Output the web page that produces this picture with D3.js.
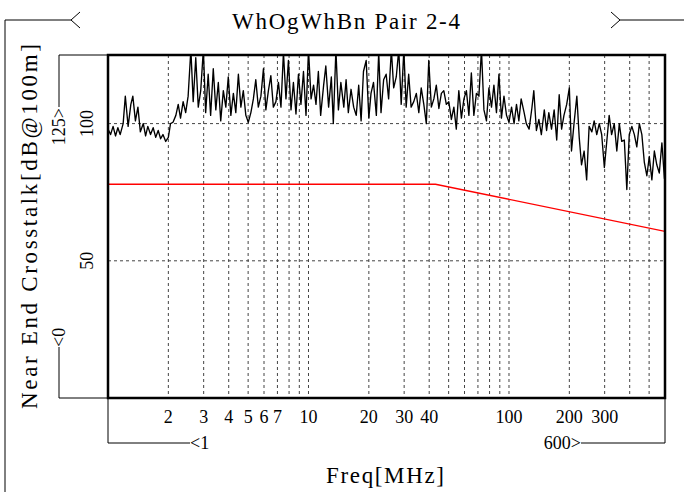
<!DOCTYPE html>
<html><head><meta charset="utf-8">
<script src="https://cdn.jsdelivr.net/npm/d3@7"></script>
<style>body{margin:0;background:#fff;} svg{display:block;}</style>
</head><body>
<svg id="c" width="684" height="492"></svg>
<script>
const title = "WhOgWhBn Pair 2-4";
const xLabel = "Freq[MHz]";
const yLabel = "Near End Crosstalk[dB@100m]";
const xTickLabels = [2,3,4,5,6,7,10,20,30,40,100,200,300];
const xGrid = [2,3,4,5,6,7,8,9,10,20,30,40,50,60,70,80,90,100,200,300,400,500];
const yTicks = [50,100];
const xMin = 1, xMax = 600, yMin = 0, yMax = 125;

const freqs = [
1.00,1.03,1.06,1.09,1.12,1.15,1.19,1.22,1.26,1.30,
1.33,1.37,1.41,1.45,1.50,1.54,1.58,1.63,1.68,1.73,
1.78,1.83,1.88,1.94,2.00,2.05,2.11,2.18,2.24,2.30,
2.37,2.44,2.51,2.59,2.66,2.74,2.82,2.90,2.99,3.07,
3.16,3.25,3.35,3.45,3.55,3.65,3.76,3.87,3.98,4.10,
4.22,4.34,4.47,4.60,4.73,4.87,5.01,5.16,5.31,5.46,
5.62,5.79,5.96,6.13,6.31,6.49,6.68,6.88,7.08,7.29,
7.50,7.72,7.94,8.18,8.41,8.66,8.91,9.17,9.44,9.72,
10.0,10.3,10.6,10.9,11.2,11.5,11.9,12.2,12.6,13.0,
13.3,13.7,14.1,14.5,15.0,15.4,15.8,16.3,16.8,17.3,
17.8,18.3,18.8,19.4,20.0,20.5,21.1,21.8,22.4,23.0,
23.7,24.4,25.1,25.9,26.6,27.4,28.2,29.0,29.9,30.7,
31.6,32.5,33.5,34.5,35.5,36.5,37.6,38.7,39.8,41.0,
42.2,43.4,44.7,46.0,47.3,48.7,50.1,51.6,53.1,54.6,
56.2,57.9,59.6,61.3,63.1,64.9,66.8,68.8,70.8,72.9,
75.0,77.2,79.4,81.8,84.1,86.6,89.1,91.7,94.4,97.2,
100,103,106,109,112,115,119,122,126,130,
133,137,141,145,150,154,158,163,168,173,
178,183,188,194,200,205,211,218,224,230,
237,244,251,259,266,274,282,290,299,307,
316,325,335,345,355,365,376,387,398,410,
422,434,447,460,473,487,501,516,531,546,
562,579,596,600];

const nextdB = [
98,96,99,95.5,98.5,96,100,110,99,107,
110,101,106,97,100,95.5,99,96,98.5,95,
97.5,94.5,96,93.5,95,100,100.5,103,107,102,
108,104,110,127,108,124,106,112,127,104,
118,103,120,105,115,101,112,106,117,103,
111,104,118,106,112,103,100.5,104,109,116,
106,110,120,105,112,117.5,106,108,115,106,
126,109,123,105,115,103.5,118,107,119,103,
127,109,114,107,119,103,114,121,106,117,
100,127,105,115,106,116,104,112.5,106,103,
114,101,119,123,102,111,115,103,126,104,
116,118,109,127,113,117,127,107,127,106,
118,106,108,111,104,113,107,100,123,106,
109,114,105.5,111,112,107,108,101.5,106,98,
112,102,109,112,103,118.5,103,111,110,127,
105,101,113,106,114,104,118,102,110,103,
100.5,106,100,107,101,109,104,100,98,105.5,
112,97.5,101.5,96,105,97.5,104,98,105,94,
110.5,98,103,107,113,90,100,110,95,85,
90,79.5,99,97,101,96,100,96,84,93,
103,96,100,90,100,93.5,94,76,96,99,
96,91.5,100,96,86,81,88,79.5,90,85,
82,93,80,80];

const limitFreqs = [1, 43, 600];
const limitdB = [77.9, 77.9, 60.7];

const P = {left:108, right:665, top:55, bottom:398};
const FONT = "'Liberation Serif','DejaVu Serif',serif";

const svg = d3.select("#c");
const x = d3.scaleLog().domain([xMin, xMax]).range([P.left, P.right]);
const y = d3.scaleLinear().domain([yMin, yMax]).range([P.bottom, P.top]);

// grid
const g = svg.append("g");
g.selectAll(".vg").data(xGrid).join("line")
  .attr("x1", d => x(d)).attr("x2", d => x(d))
  .attr("y1", P.top).attr("y2", P.bottom)
  .attr("stroke", "#444").attr("stroke-width", 1).attr("stroke-dasharray", "3,3");
g.selectAll(".hg").data(yTicks).join("line")
  .attr("x1", P.left).attr("x2", P.right)
  .attr("y1", d => y(d)).attr("y2", d => y(d))
  .attr("stroke", "#444").attr("stroke-width", 1).attr("stroke-dasharray", "3,3");

// clip
svg.append("clipPath").attr("id", "pc").append("rect")
  .attr("x", P.left).attr("y", P.top).attr("width", P.right - P.left).attr("height", P.bottom - P.top);

const line = d3.line().x(d => x(d[0])).y(d => y(d[1]));

svg.append("path").attr("clip-path", "url(#pc)")
  .attr("d", line(limitFreqs.map((f, i) => [f, limitdB[i]])))
  .attr("fill", "none").attr("stroke", "#ff0000").attr("stroke-width", 1.4);

svg.append("path").attr("clip-path", "url(#pc)")
  .attr("d", line(freqs.map((f, i) => [f, nextdB[i]])))
  .attr("fill", "none").attr("stroke", "#000").attr("stroke-width", 1.35)
  .attr("stroke-linejoin", "round");

// frame
svg.append("rect").attr("x", P.left).attr("y", P.top)
  .attr("width", P.right - P.left).attr("height", P.bottom - P.top)
  .attr("fill", "none").attr("stroke", "#000").attr("stroke-width", 2.5);

// x tick labels
svg.selectAll(".xt").data(xTickLabels).join("text")
  .attr("x", d => x(d)).attr("y", 423)
  .attr("text-anchor", "middle")
  .attr("font-family", FONT).attr("font-size", 18).attr("fill", "#000")
  .text(d => d);

// y tick labels (rotated)
svg.selectAll(".yt").data(yTicks).join("text")
  .attr("transform", d => `translate(93,${y(d)}) rotate(-90)`)
  .attr("text-anchor", "middle")
  .attr("font-family", FONT).attr("font-size", 18).attr("fill", "#000")
  .text(d => d);

const br = svg.append("g").attr("fill", "none").attr("stroke", "#000").attr("stroke-width", 1);
// y range brackets
br.append("path").attr("d", `M${P.left},${y(yMax)}H59V107`);
br.append("path").attr("d", `M${P.left},${y(yMin)}H59V347`);
// x range brackets
br.append("path").attr("d", `M${x(xMin)},${P.bottom}V443H190`);
br.append("path").attr("d", `M${x(xMax)},${P.bottom}V443H581`);
// title brackets
br.append("path").attr("d", `M5,492V20H71`);
br.append("path").attr("d", `M80,12L71,20L80,28`);
br.append("path").attr("d", `M684,20H620`);
br.append("path").attr("d", `M611,12L620,20L611,28`);

svg.append("text").attr("transform", `translate(65,108) rotate(-90)`)
  .attr("text-anchor", "end").attr("font-family", FONT).attr("font-size", 18)
  .text(yMax + ">");
svg.append("text").attr("transform", `translate(65,347) rotate(-90)`)
  .attr("text-anchor", "start").attr("font-family", FONT).attr("font-size", 18)
  .text("<" + yMin);
svg.append("text").attr("x", 190).attr("y", 449)
  .attr("text-anchor", "start").attr("font-family", FONT).attr("font-size", 18)
  .text("<" + xMin);
svg.append("text").attr("x", 581).attr("y", 449)
  .attr("text-anchor", "end").attr("font-family", FONT).attr("font-size", 18)
  .text(xMax + ">");

// titles
svg.append("text").attr("x", 232).attr("y", 29)
  .attr("font-family", FONT).attr("font-size", 23)
  .attr("textLength", 228).attr("lengthAdjust", "spacing")
  .text(title);
svg.append("text").attr("x", 326).attr("y", 483)
  .attr("font-family", FONT).attr("font-size", 23)
  .attr("textLength", 118).attr("lengthAdjust", "spacing")
  .text(xLabel);
svg.append("text").attr("transform", `translate(37,409) rotate(-90)`)
  .attr("font-family", FONT).attr("font-size", 23)
  .attr("textLength", 365).attr("lengthAdjust", "spacing")
  .text(yLabel);
</script>
</body></html>
